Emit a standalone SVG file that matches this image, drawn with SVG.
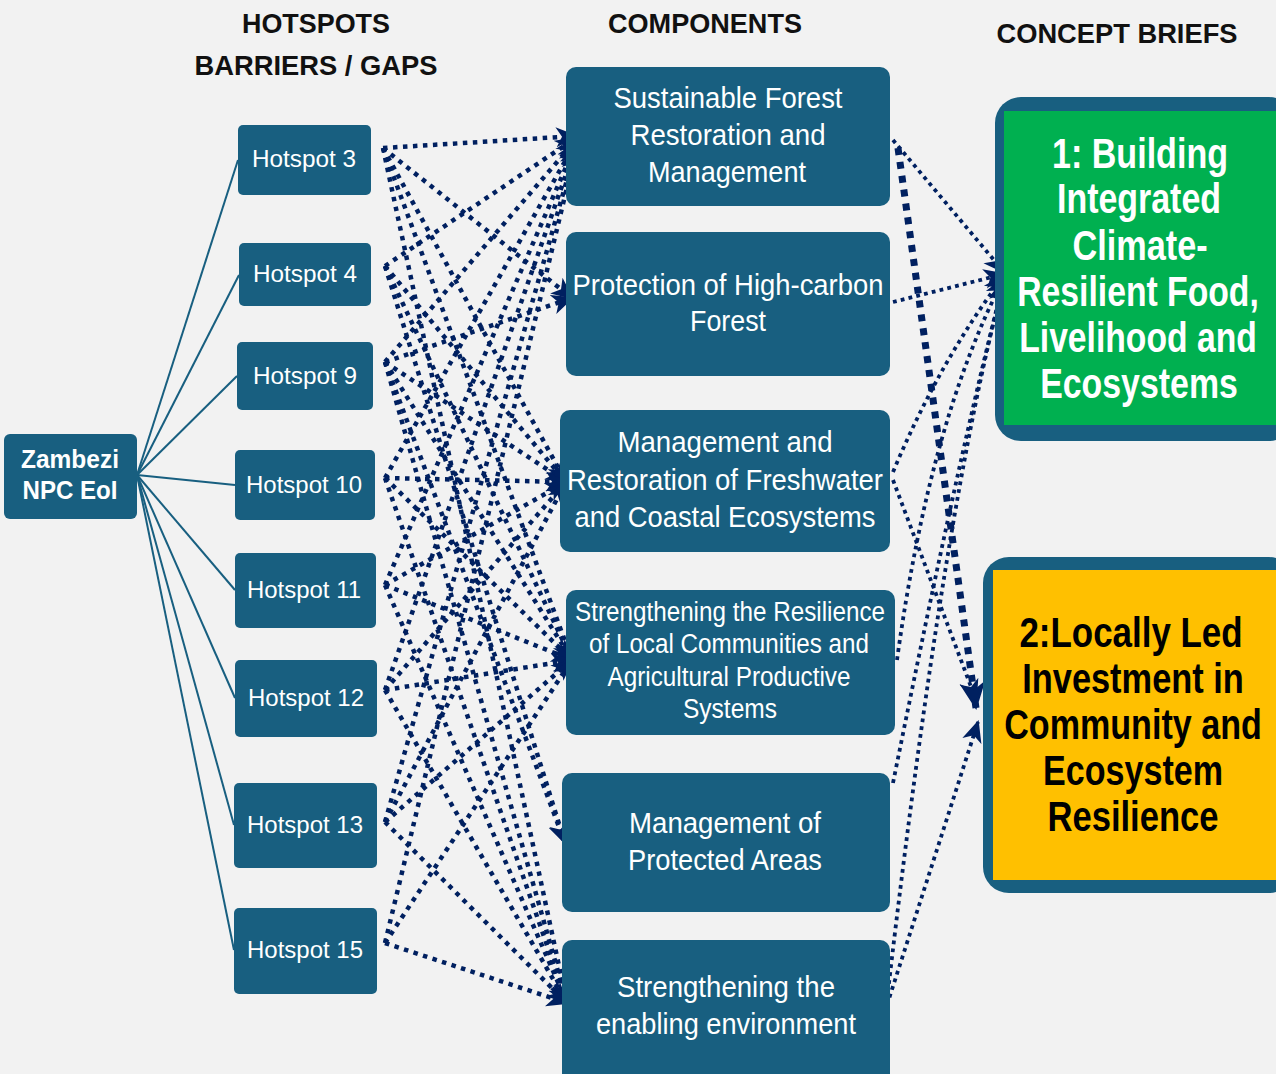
<svg xmlns="http://www.w3.org/2000/svg" width="1276" height="1074" viewBox="0 0 1276 1074">
<defs>
<marker id="ah" markerUnits="userSpaceOnUse" markerWidth="24" markerHeight="22" refX="20" refY="11" orient="auto">
<path d="M0,1 L22,11 L0,21 L6,11 Z" fill="#002060"/>
</marker>
<marker id="ahb" markerUnits="userSpaceOnUse" markerWidth="30" markerHeight="28" refX="26" refY="14" orient="auto">
<path d="M0,1 L28,14 L0,27 L8,14 Z" fill="#002060"/>
</marker>
</defs>
<style>
.bx{fill:#185f80}
.t{font-family:"Liberation Sans Narrow","Liberation Sans",Arial,sans-serif;fill:#fff;text-anchor:middle}
.c{font-size:30px}
.h{font-size:24px}
.hd{font-family:"Liberation Sans Narrow","Liberation Sans",Arial,sans-serif;font-weight:bold;font-size:28px;fill:#111;text-anchor:middle}
.cb{font-family:"Liberation Sans",Arial,sans-serif;font-weight:bold;font-size:42px;text-anchor:middle}
.sl{stroke:#185f80;stroke-width:2;fill:none}
.d{stroke:#002060;stroke-width:4.5;stroke-dasharray:4.5 5.5;fill:none;marker-end:url(#ah)}
.d2{stroke:#002060;stroke-width:3.8;stroke-dasharray:3.8 4.2;fill:none;marker-end:url(#ah)}
.dt{stroke:#002060;stroke-width:7;stroke-dasharray:7 7;fill:none;marker-end:url(#ahb)}
</style>
<rect width="1276" height="1074" fill="#f2f2f2"/>

<g id="headers">
<text class="hd" x="316" y="33" textLength="148" lengthAdjust="spacingAndGlyphs">HOTSPOTS</text>
<text class="hd" x="316" y="75" textLength="243" lengthAdjust="spacingAndGlyphs">BARRIERS / GAPS</text>
<text class="hd" x="705" y="33" textLength="194" lengthAdjust="spacingAndGlyphs">COMPONENTS</text>
<text class="hd" x="1117" y="43" textLength="241" lengthAdjust="spacingAndGlyphs">CONCEPT BRIEFS</text>
</g>

<g id="connectors">
<path class="sl" d="M137,475 L238,160"/>
<path class="sl" d="M137,475 L239,275"/>
<path class="sl" d="M137,475 L237,376"/>
<path class="sl" d="M137,475 L235,485"/>
<path class="sl" d="M137,475 L235,590"/>
<path class="sl" d="M137,475 L235,698"/>
<path class="sl" d="M137,475 L234,825"/>
<path class="sl" d="M137,475 L234,950"/>
<path class="d" d="M383,148 L576,136"/>
<path class="d" d="M383,148 L572,298"/>
<path class="d" d="M383,148 L566,482"/>
<path class="d" d="M383,148 L572,660"/>
<path class="d" d="M383,148 L567,1003"/>
<path class="d" d="M385,266 L576,138"/>
<path class="d" d="M385,266 L566,482"/>
<path class="d" d="M385,266 L572,660"/>
<path class="d" d="M385,266 L565,843"/>
<path class="d" d="M385,362 L576,140"/>
<path class="d" d="M385,362 L572,298"/>
<path class="d" d="M385,362 L566,482"/>
<path class="d" d="M385,362 L572,660"/>
<path class="d" d="M385,362 L565,843"/>
<path class="d" d="M385,362 L567,1003"/>
<path class="d" d="M385,478 L576,142"/>
<path class="d" d="M385,478 L566,482"/>
<path class="d" d="M385,478 L572,660"/>
<path class="d" d="M385,478 L567,1003"/>
<path class="d" d="M385,585 L576,144"/>
<path class="d" d="M385,585 L566,482"/>
<path class="d" d="M385,585 L572,660"/>
<path class="d" d="M385,585 L567,1003"/>
<path class="d" d="M385,690 L576,146"/>
<path class="d" d="M385,690 L566,482"/>
<path class="d" d="M385,690 L572,660"/>
<path class="d" d="M385,690 L567,1003"/>
<path class="d" d="M385,822 L576,148"/>
<path class="d" d="M385,822 L566,482"/>
<path class="d" d="M385,822 L572,660"/>
<path class="d" d="M385,822 L567,1003"/>
<path class="d" d="M385,943 L576,150"/>
<path class="d" d="M385,943 L572,660"/>
<path class="d" d="M385,943 L567,1003"/>
<path class="d2" d="M893,140 L1004,272"/>
<path class="d2" d="M893,302 L1004,274"/>
<path class="d2" d="M893,472 Q940,360 1004,276"/>
<path class="d2" d="M897,660 Q930,420 1004,278"/>
<path class="d2" d="M893,783 Q960,450 1004,280"/>
<path class="d2" d="M887,1000 Q945,500 1004,282"/>
<path class="d2" d="M893,480 L976,700"/>
<path class="d2" d="M887,1005 L978,722"/>
<path class="dt" d="M898,148 L976,708"/>
</g>

<g id="zambezi">
<rect class="bx" x="4" y="434" width="133" height="85" rx="6"/>
<text class="t" x="70" y="468" font-size="25" font-weight="bold" textLength="98" lengthAdjust="spacingAndGlyphs">Zambezi</text>
<text class="t" x="70" y="499" font-size="25" font-weight="bold" textLength="95" lengthAdjust="spacingAndGlyphs">NPC EoI</text>
</g>

<g id="hotspot3"><rect class="bx" x="238" y="125" width="133" height="70" rx="5"/><text class="t h" x="304" y="167" textLength="104" lengthAdjust="spacingAndGlyphs">Hotspot 3</text></g>
<g id="hotspot4"><rect class="bx" x="239" y="243" width="132" height="63" rx="5"/><text class="t h" x="305" y="282" textLength="104" lengthAdjust="spacingAndGlyphs">Hotspot 4</text></g>
<g id="hotspot9"><rect class="bx" x="237" y="342" width="136" height="68" rx="5"/><text class="t h" x="305" y="384" textLength="104" lengthAdjust="spacingAndGlyphs">Hotspot 9</text></g>
<g id="hotspot10"><rect class="bx" x="235" y="450" width="140" height="70" rx="5"/><text class="t h" x="304" y="493" textLength="116" lengthAdjust="spacingAndGlyphs">Hotspot 10</text></g>
<g id="hotspot11"><rect class="bx" x="235" y="553" width="141" height="75" rx="5"/><text class="t h" x="304" y="598" textLength="114" lengthAdjust="spacingAndGlyphs">Hotspot 11</text></g>
<g id="hotspot12"><rect class="bx" x="235" y="660" width="142" height="77" rx="5"/><text class="t h" x="306" y="706" textLength="116" lengthAdjust="spacingAndGlyphs">Hotspot 12</text></g>
<g id="hotspot13"><rect class="bx" x="234" y="783" width="143" height="85" rx="5"/><text class="t h" x="305" y="833" textLength="116" lengthAdjust="spacingAndGlyphs">Hotspot 13</text></g>
<g id="hotspot15"><rect class="bx" x="234" y="908" width="143" height="86" rx="5"/><text class="t h" x="305" y="958" textLength="116" lengthAdjust="spacingAndGlyphs">Hotspot 15</text></g>

<g id="comp1"><rect class="bx" x="566" y="67" width="324" height="139" rx="10"/>
<text class="t c" x="728" y="108" textLength="229" lengthAdjust="spacingAndGlyphs">Sustainable Forest</text>
<text class="t c" x="728" y="145" textLength="195" lengthAdjust="spacingAndGlyphs">Restoration and</text>
<text class="t c" x="727" y="182" textLength="158" lengthAdjust="spacingAndGlyphs">Management</text></g>
<g id="comp2"><rect class="bx" x="566" y="232" width="324" height="144" rx="10"/>
<text class="t c" x="728" y="295" textLength="311" lengthAdjust="spacingAndGlyphs">Protection of High-carbon</text>
<text class="t c" x="728" y="331" textLength="76" lengthAdjust="spacingAndGlyphs">Forest</text></g>
<g id="comp3"><rect class="bx" x="560" y="410" width="330" height="142" rx="10"/>
<text class="t c" x="725" y="452" textLength="215" lengthAdjust="spacingAndGlyphs">Management and</text>
<text class="t c" x="725" y="490" textLength="316" lengthAdjust="spacingAndGlyphs">Restoration of Freshwater</text>
<text class="t c" x="725" y="527" textLength="301" lengthAdjust="spacingAndGlyphs">and Coastal Ecosystems</text></g>
<g id="comp4"><rect class="bx" x="566" y="590" width="329" height="145" rx="10"/>
<text class="t" font-size="27" x="730" y="621" textLength="310" lengthAdjust="spacingAndGlyphs">Strengthening the Resilience</text>
<text class="t" font-size="27" x="729" y="653" textLength="280" lengthAdjust="spacingAndGlyphs">of Local Communities and</text>
<text class="t" font-size="27" x="729" y="686" textLength="243" lengthAdjust="spacingAndGlyphs">Agricultural Productive</text>
<text class="t" font-size="27" x="730" y="718" textLength="94" lengthAdjust="spacingAndGlyphs">Systems</text></g>
<g id="comp5"><rect class="bx" x="562" y="773" width="328" height="139" rx="10"/>
<text class="t c" x="725" y="833" textLength="192" lengthAdjust="spacingAndGlyphs">Management of</text>
<text class="t c" x="725" y="870" textLength="194" lengthAdjust="spacingAndGlyphs">Protected Areas</text></g>
<g id="comp6"><rect class="bx" x="562" y="940" width="328" height="144" rx="10"/>
<text class="t c" x="726" y="997" textLength="218" lengthAdjust="spacingAndGlyphs">Strengthening the</text>
<text class="t c" x="726" y="1034" textLength="260" lengthAdjust="spacingAndGlyphs">enabling environment</text></g>

<g id="brief1">
<rect x="995" y="97" width="300" height="344" rx="26" fill="#185f80"/>
<rect x="1004" y="111" width="290" height="314" fill="#00b050"/>
<g transform="translate(1138,0) scale(0.8,1)" fill="#fff">
<text class="cb" x="2.5" y="168" textLength="220" lengthAdjust="spacingAndGlyphs">1: Building</text>
<text class="cb" x="1.25" y="213" textLength="205" lengthAdjust="spacingAndGlyphs">Integrated</text>
<text class="cb" x="2.5" y="260" textLength="169" lengthAdjust="spacingAndGlyphs">Climate-</text>
<text class="cb" x="0" y="306" textLength="302" lengthAdjust="spacingAndGlyphs">Resilient Food,</text>
<text class="cb" x="0" y="352" textLength="297" lengthAdjust="spacingAndGlyphs">Livelihood and</text>
<text class="cb" x="1.25" y="398" textLength="247" lengthAdjust="spacingAndGlyphs">Ecosystems</text>
</g>
</g>
<g id="brief2">
<rect x="983" y="557" width="312" height="336" rx="26" fill="#185f80"/>
<rect x="993" y="570" width="300" height="310" fill="#ffc000"/>
<g transform="translate(1133,0) scale(0.8,1)" fill="#000">
<text class="cb" x="-2.5" y="647" textLength="279" lengthAdjust="spacingAndGlyphs">2:Locally Led</text>
<text class="cb" x="0" y="693" textLength="277" lengthAdjust="spacingAndGlyphs">Investment in</text>
<text class="cb" x="0" y="739" textLength="322" lengthAdjust="spacingAndGlyphs">Community and</text>
<text class="cb" x="0" y="785" textLength="225" lengthAdjust="spacingAndGlyphs">Ecosystem</text>
<text class="cb" x="0" y="831" textLength="214" lengthAdjust="spacingAndGlyphs">Resilience</text>
</g>
</g>
</svg>
